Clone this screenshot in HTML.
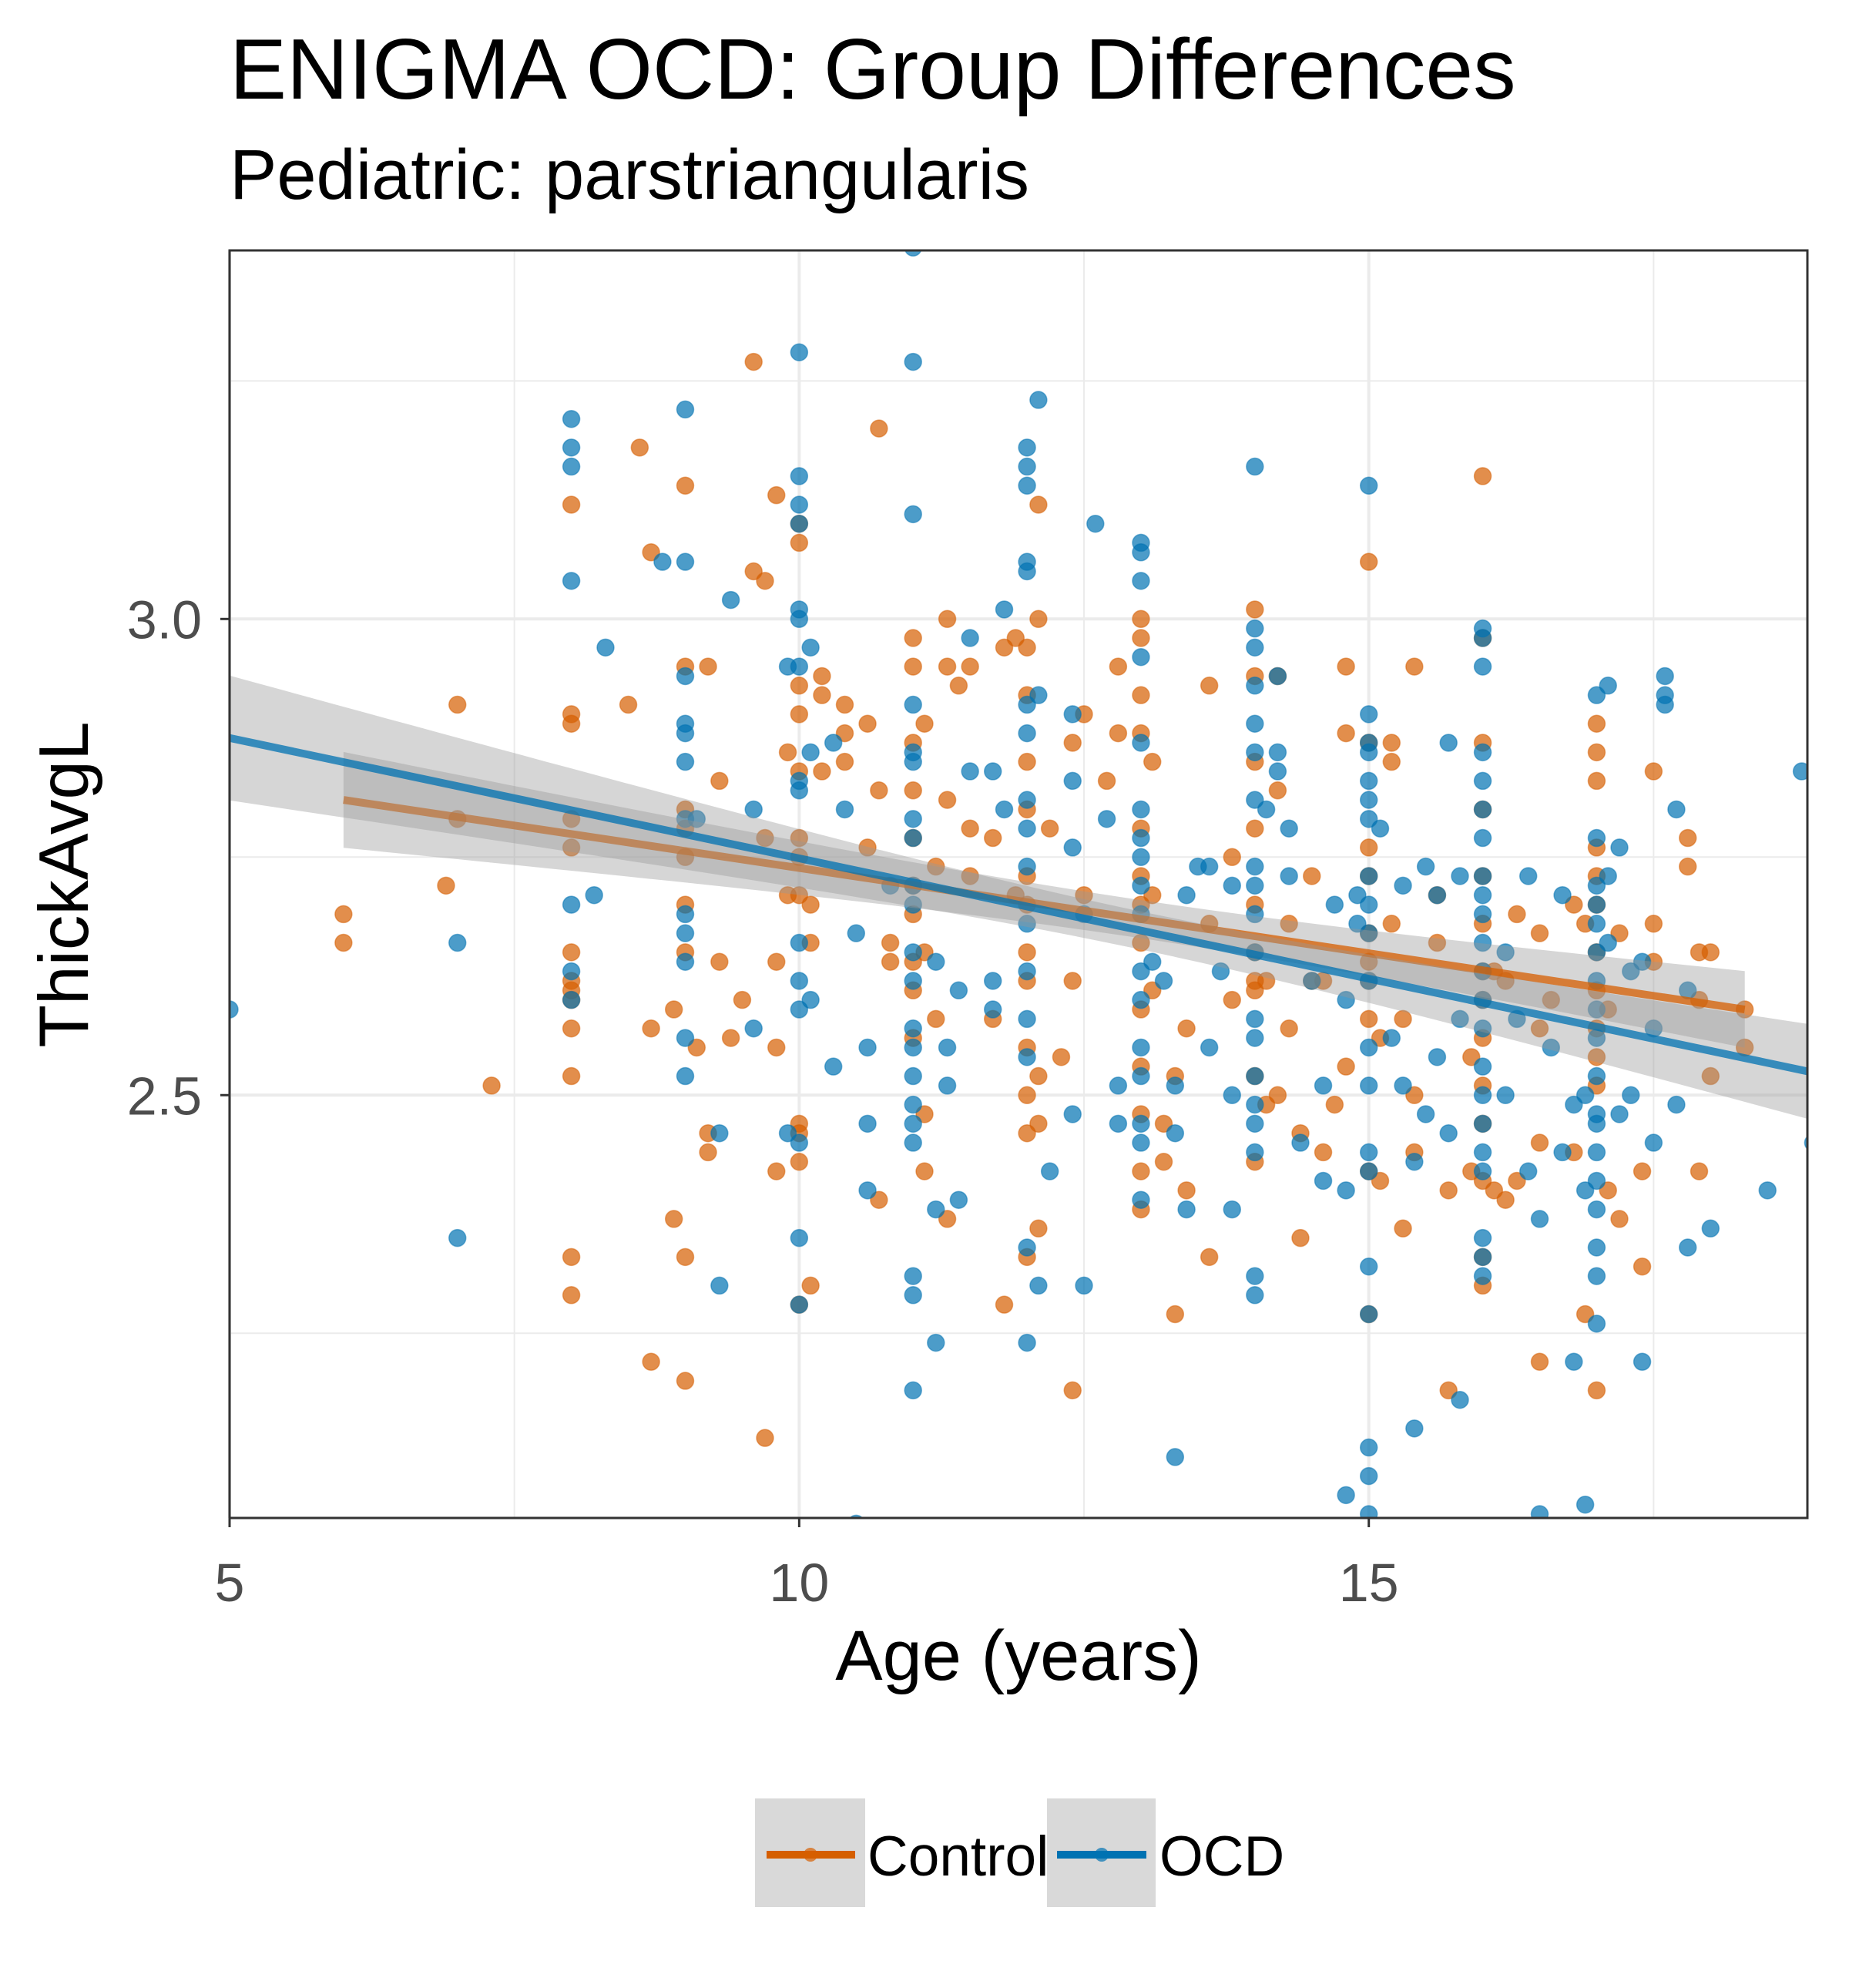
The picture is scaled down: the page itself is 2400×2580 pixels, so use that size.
<!DOCTYPE html>
<html><head><meta charset="utf-8"><style>
html,body{margin:0;padding:0;background:#fff;}
svg{display:block;font-family:"Liberation Sans",Arial,sans-serif;}
</style></head><body>
<svg id="chart" width="2400" height="2580" viewBox="0 0 2400 2580" xmlns="http://www.w3.org/2000/svg">
<text x="298" y="128" font-size="111" fill="#000">ENIGMA OCD: Group Differences</text>
<text x="298" y="258" font-size="92" fill="#000">Pediatric: parstriangularis</text>
<defs><clipPath id="pc"><rect x="298" y="325" width="2048" height="1645"/></clipPath></defs>
<rect x="298" y="325" width="2048" height="1645" fill="#fff"/>
<g id="grid"></g>
<g id="points" clip-path="url(#pc)"></g>
<g id="smooth" clip-path="url(#pc)"></g>
<rect x="298" y="325" width="2048" height="1645" fill="none" stroke="#333" stroke-width="3"/>
<g id="axes"></g>
<text x="1322" y="2180" font-size="92" text-anchor="middle" fill="#000">Age (years)</text>
<text transform="translate(114,1148) rotate(-90)" font-size="91" text-anchor="middle" fill="#000">ThickAvgL</text>
<g>
<g>
<rect x="980" y="2334" width="143" height="141" fill="#d9d9d9"/>
<line x1="995" y1="2407" x2="1110" y2="2407" stroke="#D55E00" stroke-width="10"/>
<circle cx="1052" cy="2407" r="9" fill="#D55E00" fill-opacity="0.7"/>
<text x="1126" y="2434" font-size="73" fill="#000">Control</text>
</g>
<g>
<rect x="1359" y="2334" width="141" height="141" fill="#d9d9d9"/>
<line x1="1372" y1="2407" x2="1488" y2="2407" stroke="#0072B2" stroke-width="10"/>
<circle cx="1430" cy="2407" r="9" fill="#0072B2" fill-opacity="0.7"/>
<text x="1505" y="2434" font-size="73" fill="#000">OCD</text>
</g>
</g>
</svg>
<script>
const xTicks = [5, 10, 15];
const xTickLabels = ["5", "10", "15"];
const yTicks = [2.5, 3.0];
const yTickLabels = ["2.5", "3.0"];
const xMinor = [7.5, 12.5, 17.5];
const yMinor = [2.25, 2.75, 3.25];
const ctrlFit = [6, 18.3, 2.81, 2.59];
const ctrlBand = [13, 0.02, 0.0066];
const ocdFit = [5, 18.85, 2.875, 2.525];
const ocdBand = [13, 0.02, 0.0078];
const ocdPoints = [[5,[2.59]],[7,[2.66,2.35]],[8,[3.21,3.18,3.16,3.04,2.70,2.63,2.60]],[8.2,[2.71]],[8.3,[2.97]],[8.8,[3.06]],
[9,[3.22,3.06,2.94,2.89,2.88,2.85,2.79,2.69,2.67,2.64,2.56,2.52]],[9.1,[2.79]],[9.3,[2.46,2.30]],[9.4,[3.02]],[9.6,[2.80,2.57]],[9.9,[2.95,2.46]],
[10,[3.28,3.15,3.12,3.10,3.01,3.00,2.95,2.83,2.82,2.66,2.62,2.59,2.45,2.35,2.28]],[10.1,[2.97,2.86,2.60]],[10.3,[2.87,2.53]],[10.4,[2.80]],[10.5,[2.67,2.05]],[10.6,[2.47,2.55,2.40]],[10.8,[2.72]],
[11,[3.39,3.27,3.11,2.91,2.86,2.85,2.79,2.77,2.72,2.70,2.65,2.62,2.57,2.55,2.52,2.49,2.47,2.45,2.31,2.29,2.19]],[11.2,[2.64,2.38,2.24]],[11.3,[2.51,2.55]],[11.4,[2.39,2.61]],[11.5,[2.84,2.98]],[11.7,[2.59,2.62,2.84]],[11.8,[3.01,2.80]],
[12,[3.18,3.16,3.14,3.06,3.05,2.88,2.81,2.78,2.74,2.68,2.63,2.58,2.54,2.34,2.24,2.91]],[12.1,[3.23,2.92,2.30]],[12.2,[2.42]],[12.4,[2.48,2.76,2.83,2.90]],[12.5,[2.30,2.69]],[12.6,[3.10]],[12.7,[2.79]],[12.8,[2.51,2.47]],
[13,[3.08,3.07,3.04,2.96,2.87,2.80,2.77,2.75,2.72,2.69,2.63,2.60,2.55,2.52,2.47,2.45,2.39]],[13.1,[2.64]],[13.2,[2.62]],[13.3,[2.46,2.12,2.51]],[13.4,[2.71,2.38]],[13.5,[2.74]],[13.6,[2.74,2.55]],[13.7,[2.63]],[13.8,[2.50,2.38,2.72]],
[14,[3.16,2.99,2.97,2.93,2.89,2.86,2.81,2.74,2.72,2.69,2.65,2.58,2.56,2.52,2.49,2.47,2.44,2.31,2.29]],[14.1,[2.80]],[14.2,[2.94,2.86,2.84]],[14.3,[2.78,2.73]],[14.4,[2.45]],[14.5,[2.62]],[14.6,[2.51,2.41]],[14.7,[2.70]],[14.8,[2.60,2.40,2.08]],[14.9,[2.71,2.68]],
[15,[3.14,2.90,2.87,2.86,2.83,2.81,2.79,2.73,2.70,2.67,2.62,2.55,2.51,2.44,2.42,2.32,2.27,2.13,2.06,2.10]],[15.1,[2.78]],[15.2,[2.56]],[15.3,[2.72,2.51]],[15.4,[2.43,2.15]],[15.5,[2.74,2.48]],[15.6,[2.71,2.54]],[15.7,[2.87,2.46]],[15.8,[2.73,2.58,2.18]],
[16,[2.99,2.98,2.95,2.86,2.83,2.80,2.77,2.73,2.71,2.69,2.66,2.63,2.60,2.57,2.53,2.50,2.47,2.44,2.42,2.35,2.33,2.31,2.04]],[16.2,[2.65,2.50]],[16.3,[2.58]],[16.4,[2.73,2.42]],[16.5,[2.37,2.06]],[16.6,[2.55]],[16.7,[2.71,2.44]],[16.8,[2.49,2.22]],[16.9,[2.50,2.40,2.07]],
[17,[2.92,2.77,2.72,2.70,2.68,2.65,2.62,2.59,2.56,2.52,2.47,2.44,2.41,2.38,2.34,2.31,2.26,2.48]],[17.1,[2.73,2.66,2.93]],[17.2,[2.76,2.48]],[17.3,[2.63,2.50]],[17.4,[2.22,2.64]],[17.5,[2.57,2.45]],[17.6,[2.92,2.91,2.94]],[17.7,[2.80,2.49]],[17.8,[2.34,2.61]],[18,[2.36]],[18.5,[2.40]],[18.8,[2.84]],[18.9,[2.45]]];
const ctrlPoints = [[6,[2.69,2.66]],[6.9,[2.72]],[7,[2.91,2.79]],[7.3,[2.51]],[8,[3.12,2.90,2.89,2.79,2.76,2.65,2.62,2.61,2.60,2.57,2.52,2.33,2.29]],[8.5,[2.91]],[8.6,[3.18]],[8.7,[3.07,2.57,2.22]],[8.9,[2.59,2.37]],
[9,[3.14,2.95,2.80,2.78,2.75,2.70,2.65,2.33,2.20]],[9.1,[2.55]],[9.2,[2.46,2.44,2.95]],[9.3,[2.83,2.64]],[9.4,[2.56]],[9.5,[2.60]],[9.6,[3.27,3.05]],[9.7,[3.04,2.77,2.14]],[9.8,[3.13,2.55,2.42,2.64]],[9.9,[2.71,2.86]],
[10,[3.10,3.08,2.93,2.90,2.84,2.77,2.75,2.71,2.47,2.46,2.43,2.28]],[10.1,[2.70,2.66,2.30]],[10.2,[2.94,2.84,2.92]],[10.4,[2.91,2.85,2.88]],[10.6,[2.89,2.76]],[10.7,[3.20,2.82,2.39]],[10.8,[2.66,2.64]],
[11,[2.98,2.95,2.87,2.82,2.77,2.72,2.69,2.64,2.61,2.56]],[11.1,[2.89,2.48,2.42,2.65]],[11.2,[2.58,2.74]],[11.3,[3.00,2.81,2.37,2.95]],[11.4,[2.93]],[11.5,[2.95,2.78,2.73]],[11.7,[2.77,2.58]],[11.8,[2.97,2.28]],[11.9,[2.98,2.71]],
[12,[2.97,2.92,2.85,2.80,2.73,2.70,2.65,2.62,2.55,2.50,2.46,2.33]],[12.1,[3.12,3.00,2.47,2.36,2.52]],[12.2,[2.78]],[12.3,[2.54]],[12.4,[2.87,2.62,2.19]],[12.5,[2.90,2.71]],[12.7,[2.83]],[12.8,[2.95,2.88]],
[13,[3.00,2.98,2.92,2.88,2.78,2.73,2.70,2.66,2.59,2.53,2.48,2.42,2.38]],[13.1,[2.85,2.71,2.61]],[13.2,[2.47,2.43]],[13.3,[2.27,2.52]],[13.4,[2.40,2.57]],[13.6,[2.93,2.68,2.33]],[13.8,[2.75,2.60]],
[14,[3.01,2.94,2.85,2.78,2.70,2.65,2.62,2.61,2.52,2.43]],[14.1,[2.62,2.49]],[14.2,[2.94,2.82,2.50]],[14.3,[2.68,2.57]],[14.4,[2.46,2.35]],[14.5,[2.73,2.62]],[14.6,[2.62,2.44]],[14.7,[2.49]],[14.8,[2.95,2.88,2.53]],
[15,[3.06,2.87,2.76,2.73,2.67,2.64,2.62,2.58,2.42,2.27]],[15.1,[2.41,2.56]],[15.2,[2.68,2.85,2.87]],[15.3,[2.36,2.58]],[15.4,[2.95,2.50,2.44]],[15.6,[2.71,2.66]],[15.7,[2.40,2.19]],[15.9,[2.42,2.54]],
[16,[3.15,2.98,2.87,2.80,2.73,2.68,2.63,2.60,2.56,2.51,2.47,2.41,2.33,2.30]],[16.1,[2.63,2.40]],[16.2,[2.62,2.39]],[16.3,[2.69,2.41]],[16.5,[2.67,2.57,2.45,2.22]],[16.6,[2.60]],[16.8,[2.70,2.44]],[16.9,[2.68,2.27]],
[17,[2.89,2.86,2.83,2.76,2.73,2.70,2.65,2.61,2.57,2.54,2.51,2.19]],[17.1,[2.59,2.40]],[17.2,[2.67,2.37]],[17.4,[2.42,2.32]],[17.5,[2.84,2.68,2.64]],[17.8,[2.77,2.74]],[17.9,[2.42,2.65,2.60]],[18,[2.52,2.65]],[18.3,[2.59,2.55]]];

const NS = "http://www.w3.org/2000/svg";
const X0 = 298, X1 = 2346, Y0 = 325, Y1 = 1970;
const xMin = 5, xMax = 18.85, yMin = 2.056, yMax = 3.387;
function sx(v){ return X0 + (v - xMin) / (xMax - xMin) * (X1 - X0); }
function sy(v){ return Y1 - (v - yMin) / (yMax - yMin) * (Y1 - Y0); }
function mk(tag, attrs, parent){ const e = document.createElementNS(NS, tag); for (const k in attrs) e.setAttribute(k, attrs[k]); parent.appendChild(e); return e; }

const grid = document.getElementById('grid');
xMinor.forEach(v => { const l = mk('line', {x1:sx(v), x2:sx(v), y1:Y0, y2:Y1, stroke:'#ebebeb', 'stroke-width':2}, grid);
  
   });
yMinor.forEach(v => { const l = mk('line', {x1:X0, x2:X1, y1:sy(v), y2:sy(v), stroke:'#ebebeb', 'stroke-width':2}, grid);
  
   });
xTicks.forEach(v => { const l = mk('line', {x1:sx(v), x2:sx(v), y1:Y0, y2:Y1, stroke:'#ebebeb', 'stroke-width':4}, grid);
  
   });
yTicks.forEach(v => { const l = mk('line', {x1:X0, x2:X1, y1:sy(v), y2:sy(v), stroke:'#ebebeb', 'stroke-width':4}, grid);
  
   });

const pts = document.getElementById('points');
function drawPoints(data, color, name){
  data.forEach(([age, vals]) => vals.forEach(v => {
    const c = mk('circle', {cx:sx(age), cy:sy(v), r:11, fill:color, 'fill-opacity':0.7, stroke:color, 'stroke-opacity':0.5, 'stroke-width':1.5}, pts);
    
    
  }));
}
drawPoints(ctrlPoints, '#D55E00', 'control-point');
drawPoints(ocdPoints, '#0072B2', 'ocd-point');

const sm = document.getElementById('smooth');
function drawFit(fit, band, color, name){
  const [xa, xb, ya, yb] = fit;
  const f = x => ya + (yb - ya) * (x - xa) / (xb - xa);
  const hw = x => Math.sqrt(band[1]*band[1] + band[2]*band[2]*(x-band[0])*(x-band[0]));
  const up = [], lo = [];
  for (let i = 0; i <= 60; i++) { const x = xa + (xb - xa) * i / 60;
    up.push(sx(x).toFixed(1) + ',' + sy(f(x) + hw(x)).toFixed(1));
    lo.unshift(sx(x).toFixed(1) + ',' + sy(f(x) - hw(x)).toFixed(1)); }
  const p = mk('polygon', {points: up.concat(lo).join(' '), fill:'#999', 'fill-opacity':0.4}, sm);
  
  
  const l = mk('line', {x1:sx(xa), y1:sy(ya), x2:sx(xb), y2:sy(yb), stroke:color, 'stroke-width':10, 'stroke-opacity':0.75}, sm);
  
  
}
drawFit(ctrlFit, ctrlBand, '#D55E00', 'control');
drawFit(ocdFit, ocdBand, '#0072B2', 'ocd');

const ax = document.getElementById('axes');
xTicks.forEach((v, i) => {
  const t = mk('line', {x1:sx(v), x2:sx(v), y1:Y1, y2:Y1+12, stroke:'#333', 'stroke-width':3}, ax);
  
  
  const tx = mk('text', {x:sx(v), y:2078, 'font-size':70, 'text-anchor':'middle', fill:'#4d4d4d'}, ax);
  tx.textContent = xTickLabels[i];
  
  
});
yTicks.forEach((v, i) => {
  const t = mk('line', {x1:X0-12, x2:X0, y1:sy(v), y2:sy(v), stroke:'#333', 'stroke-width':3}, ax);
  
  
  const tx = mk('text', {x:262, y:sy(v)+25, 'font-size':70, 'text-anchor':'end', fill:'#4d4d4d'}, ax);
  tx.textContent = yTickLabels[i];
  
  
});
</script>
</body></html>
